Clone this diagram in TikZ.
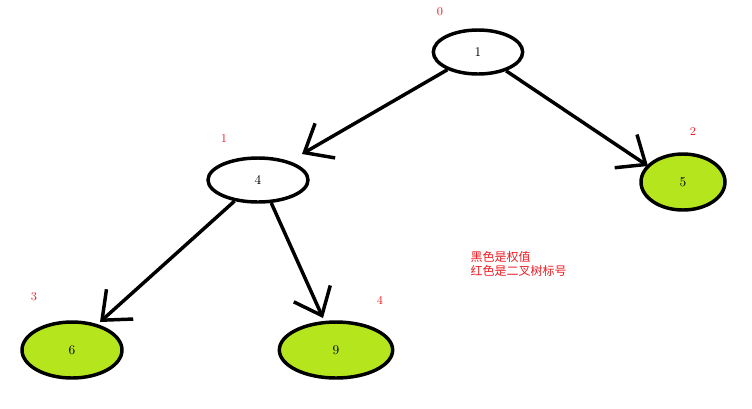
\documentclass[tikz,border=0pt]{standalone}
\usepackage{fontspec}
\newfontfamily\cjk{Noto Sans CJK SC}
\usetikzlibrary{shapes.geometric,arrows.meta}
\definecolor{lime}{HTML}{B5E61D}
\definecolor{lred}{HTML}{ED1C24}
\begin{document}
\begin{tikzpicture}[x=0.75pt,y=-0.75pt,
  nd/.style={ellipse,draw=black,line width=2.6pt,inner sep=0pt},
  wn/.style={nd,fill=white},
  gn/.style={nd,fill=lime},
  lab/.style={text=lred,font=\small},
  edge/.style={line width=2.6pt,-{Straight Barb[length=18pt,width=30pt,line width=2.6pt]}}]
\useasboundingbox (0,0) rectangle (752,408);
\node[wn,minimum width=90\pgflinewidth,minimum width=67pt,minimum height=33pt] (n1) at (478,52) {1};
\node[wn,minimum width=75pt,minimum height=33pt] (n4) at (258,180) {4};
\node[gn,minimum width=63pt,minimum height=42pt] (n5) at (683,182) {5};
\node[gn,minimum width=75pt,minimum height=42pt] (n6) at (72,350) {6};
\node[gn,minimum width=85pt,minimum height=42pt] (n9) at (336,350) {9};
\node[lab] (l0) at (440,12) {0};
\node[lab] (l1) at (224,138) {1};
\node[lab] (l2) at (693,131) {2};
\node[lab] (l3) at (34,297) {3};
\node[lab] (l4) at (380,300) {4};
\node[anchor=west,text=lred,align=left,font=\cjk\small] (txt) at (466,264) {黑色是权值\\[-1pt]红色是二叉树标号};
\coordinate (a4) at (302,154);
\coordinate (a5) at (648,166);
\coordinate (a6) at (100,322);
\coordinate (a9) at (323,318);
\draw[edge] (n1) -- (a4);
\draw[edge] (n1) -- (a5);
\draw[edge] (n4) -- (a6);
\draw[edge] (n4.-60) -- (a9);
\end{tikzpicture}
\end{document}
